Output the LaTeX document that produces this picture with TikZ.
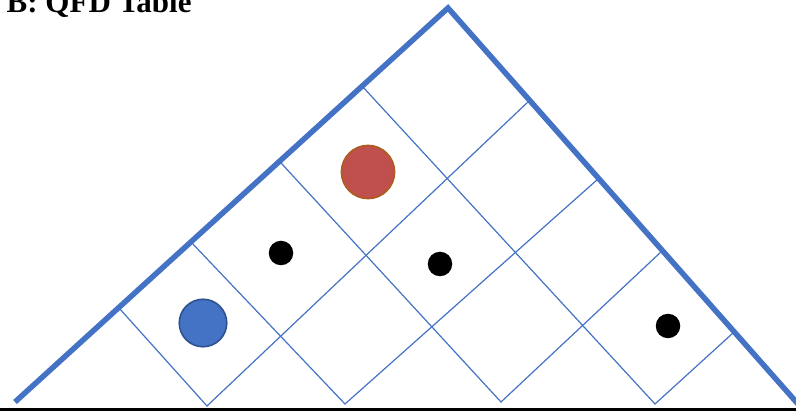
\documentclass[tikz,border=0pt]{standalone}
\usepackage{fontspec}
\setmainfont{Liberation Serif}
\definecolor{qfdblue}{HTML}{4472C4}
\definecolor{qfdnavy}{HTML}{2F528F}
\definecolor{qfdred}{HTML}{C0504D}
\definecolor{qfdrust}{HTML}{AE5A21}
\begin{document}
\begin{tikzpicture}[x=1pt, y=-1pt,
  edgeline/.style={qfdblue, line width=5.5pt, line join=miter},
  gridline/.style={qfdblue, line width=1.2pt},
  bullet/.style={circle, fill=black, inner sep=0pt, minimum size=24.5pt}]
  \useasboundingbox (0,0) rectangle (796,411);
  \clip (0,0) rectangle (796,411);

  \coordinate (LC) at (15,402);
  \coordinate (TP) at (448,8);
  \coordinate (RT) at (798,404);
  \coordinate (L1) at (119,308);
  \coordinate (L2) at (191,242);
  \coordinate (L3) at (279.5,161.3);
  \coordinate (L4) at (362,86);
  \coordinate (B1) at (207,406);
  \coordinate (B2) at (345,404);
  \coordinate (B3) at (501,402);
  \coordinate (B4) at (655,404);
  \coordinate (R1) at (529,101);
  \coordinate (R2) at (598,179);
  \coordinate (R3) at (662,251);
  \coordinate (R4) at (733,333);
  \coordinate (BL) at (0,409.5);
  \coordinate (BR) at (796,409.5);

  \draw[gridline] (L1) -- (B1) -- (R1);
  \draw[gridline] (L2) -- (B2) -- (R2);
  \draw[gridline] (L3) -- (B3) -- (R3);
  \draw[gridline] (L4) -- (B4) -- (R4);
  \draw[edgeline] (LC) -- (TP) -- (RT);
  \draw[line width=3pt] (BL) -- (BR);

  \node[circle, fill=qfdblue, draw=qfdnavy, line width=1.6pt, inner sep=0pt, minimum size=47.5pt] (BC) at (203,323) {};
  \node[circle, fill=qfdred, draw=qfdrust, line width=1.8pt, inner sep=0pt, minimum size=53pt] (RC) at (368,172) {};
  \node[bullet] (D1) at (281,253) {};
  \node[bullet] (D2) at (440,264) {};
  \node[bullet] (D3) at (668,326) {};

  \node[anchor=base west, inner sep=0pt, font=\fontsize{31}{31}\selectfont\bfseries] (TT) at (6.5,13) {B: QFD Table};
\end{tikzpicture}
\end{document}
